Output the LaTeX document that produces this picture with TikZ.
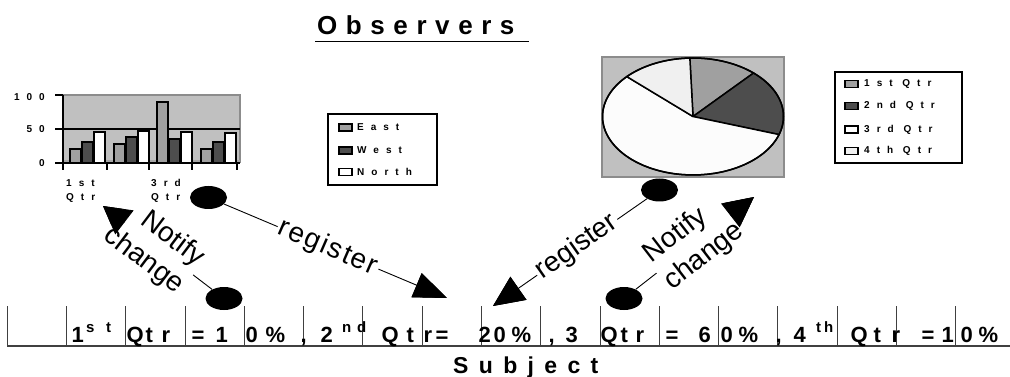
\documentclass[tikz,border=0pt]{standalone}
\usepackage{fontspec}
\setmainfont{Liberation Sans}
\usetikzlibrary{arrows.meta,calc,shapes.geometric}
\definecolor{gmid}{HTML}{A0A0A0}
\definecolor{gdark}{HTML}{4D4D4D}
\definecolor{gbg}{HTML}{C0C0C0}
\definecolor{gedge}{HTML}{8C8C8C}
\definecolor{pwhite}{HTML}{FCFCFC}
\definecolor{plight}{HTML}{F0F0F0}
\begin{document}
\begin{tikzpicture}[x=1pt,y=-1pt,
  blob/.style={ellipse, fill=black, minimum width=37pt, minimum height=23pt, inner sep=0pt},
  conn/.style 2 args={line width=0.9pt, -{Triangle[length=#1pt,width=#2pt]}},
  lbl/.style={font=\fontsize{28}{34}\selectfont, fill=white, inner sep=2pt},
  mglyph/.style={anchor=base west, inner sep=0pt, font=\fontsize{22}{22}\selectfont\bfseries},
  supg/.style={anchor=base west, inner sep=0pt, font=\fontsize{15}{15}\selectfont\bfseries},
  chartlbl/.style={inner sep=0pt, font=\fontsize{10}{10}\selectfont\bfseries\addfontfeature{LetterSpace=70}},
  swatch/.style={draw=black, line width=1.3pt},
  barbox/.style={draw=black, line width=2pt},
  axisline/.style={line width=2.2pt, black},
]
\useasboundingbox (0,0) rectangle (1010,377);

% ---------- title ----------
\node[anchor=base west, inner sep=0pt, font=\fontsize{26}{26}\selectfont\bfseries\addfontfeature{LetterSpace=33}] (title) at (317,35) {Observers};
\draw[line width=1pt] (315,42) -- (529,42);

% ---------- bar chart ----------
\fill[gbg] (63,95) rectangle (240,163);
\draw[gedge, line width=1.2pt] (63,95) -- (240,95) -- (240,163);
\fill[gray!70] (63,160) rectangle (240,163);
\draw[axisline] (55,129) -- (240,129);
\draw[axisline] (63,95) -- (63,170);
\draw[axisline] (55,163) -- (240,163);
\draw[axisline] (55,95) -- (63,95);
\foreach \tx in {63,107,149,192,237} \draw[axisline] (\tx,163) -- (\tx,170);
\foreach \g/\e/\w/\n in {0/20.4/30.6/45.9, 1/27.4/38.6/46.9, 2/90/34.6/45, 3/20.4/31.6/43.9}{
  \pgfmathsetmacro{\gx}{70+43.5*\g}
  \draw[barbox, fill=gmid] (\gx,163) rectangle ({\gx+11},{163-0.68*\e});
  \draw[barbox, fill=gdark] ({\gx+12},163) rectangle ({\gx+23},{163-0.68*\w});
  \draw[barbox, fill=white] ({\gx+24},163) rectangle ({\gx+35},{163-0.68*\n});
}
\node[chartlbl, anchor=east] (y100) at (45,97) {100};
\node[chartlbl, anchor=east] (y50) at (45,129) {50};
\node[chartlbl, anchor=east] (y0) at (45,163) {0};
\node[chartlbl, anchor=west] (c1a) at (66,183) {1st};
\node[chartlbl, anchor=west] (c1b) at (66,198) {Qtr};
\node[chartlbl, anchor=west] (c3a) at (151,183) {3rd};
\node[chartlbl, anchor=west] (c3b) at (151,198) {Qtr};

% left legend
\draw[line width=1.5pt] (328,114) rectangle (437,185);
\draw[swatch, fill=gmid] (339,124) rectangle (352,131);
\draw[swatch, fill=gdark] (339,147) rectangle (352,154);
\draw[swatch, fill=white] (339,168.5) rectangle (352,175.5);
\node[chartlbl, anchor=west] (le) at (357,127.5) {East};
\node[chartlbl, anchor=west] (lw) at (357,150.5) {West};
\node[chartlbl, anchor=west] (ln) at (357,172) {North};

% ---------- pie chart ----------
\draw[gedge, fill=gbg, line width=1.5pt] (602,57) rectangle (784,177);
\def\pcx{693}\def\pcy{116.5}\def\prx{90.5}\def\pry{58.5}
\foreach \a/\b/\col in {48/92/gmid, -18/48/gdark, 137/342/pwhite, 92/137/plight}{
  \filldraw[fill=\col, draw=black, line width=1.5pt, line join=round] (\pcx,\pcy) -- plot[domain=\a:\b, samples=40] ({\pcx+\prx*cos(\x)},{\pcy-\pry*sin(\x)}) -- cycle;
}
\draw[line width=1.5pt] (\pcx,\pcy) ellipse [x radius=\prx, y radius=\pry];

% right legend
\draw[line width=1.5pt] (835,72) rectangle (962,163);
\draw[swatch, fill=gmid] (845,80.5) rectangle (858,87.5);
\draw[swatch, fill=gdark] (845,102.5) rectangle (858,109.5);
\draw[swatch, fill=white] (845,126) rectangle (858,133);
\draw[swatch, fill=plight] (845,147.5) rectangle (858,154.5);
\node[chartlbl, anchor=west] (r1) at (864,84) {1st Qtr};
\node[chartlbl, anchor=west] (r2) at (864,106) {2nd Qtr};
\node[chartlbl, anchor=west] (r3) at (864,129.5) {3rd Qtr};
\node[chartlbl, anchor=west] (r4) at (864,151) {4th Qtr};

% ---------- subject bar ----------
\draw[black!75, line width=1.2pt] (7,346) -- (1010,346);
\foreach \k in {0,...,16} \draw[black!75, line width=1pt] ({7.3+59.27*\k},306) -- ({7.3+59.27*\k},346);
\foreach \x/\c [count=\i] in {73/1, 128/Q, 147/t, 163/r, 193/=, 217/1, 247/0, 267/\%, 302/{,}, 322/2, 383/Q, 408/t, 425/r, 437/=, 480/2, 495/0, 513/\%, 550/{,}, 567/3, 602/Q, 622/t, 637/r, 667/=, 700/6, 722/0, 740/\%, 777/{,}, 795/4, 852/Q, 875/t, 893/r, 923/=, 943/1, 962/0, 980/\%}
  \node[mglyph] (g\i) at (\x-1.5,342) {\c};
\foreach \x/\c [count=\i] in {87/s, 107/t, 343/n, 358/d, 817/t, 825/h}
  \node[supg] (s\i) at (\x-1,332) {\c};
\node[anchor=base west, inner sep=0pt, font=\fontsize{23}{23}\selectfont\bfseries\addfontfeature{LetterSpace=45}] (subj) at (453,373) {Subject};

% ---------- blobs and connectors ----------
\node[blob] (A) at (208.5,197.5) {};
\node[blob] (B) at (224,298.5) {};
\node[blob] (C) at (659.5,190) {};
\node[blob] (D) at (624,298.5) {};
\coordinate (tA) at (447,298);
\coordinate (tB) at (103,206);
\coordinate (tC) at (493,306);
\coordinate (tD) at (754,197);

\draw[conn={33}{26}] (A) -- (tA);
\draw[conn={27}{30}] (B) -- (tB);
\draw[conn={31}{28}] (C) -- (tC);
\draw[conn={30}{30}] (D) -- (tD);

\node[lbl, rotate=-23.5, font=\fontsize{28}{34}\selectfont\addfontfeature{LetterSpace=6}] (regL) at (328,248) {register};
\node[lbl, rotate=-37, align=right] (notL) at (154,247) {Notify\\change};
\node[lbl, rotate=35] (regR) at (577,247) {register};
\node[lbl, rotate=37.6, align=left] (notR) at (694,243) {Notify\\change};

% arrow heads drawn again above the label boxes
\draw[conn={33}{26}] ($(tA)!33pt!(A)$) -- (tA);
\draw[conn={27}{30}] ($(tB)!27pt!(B)$) -- (tB);
\draw[conn={31}{28}] ($(tC)!31pt!(C)$) -- (tC);
\draw[conn={30}{30}] ($(tD)!30pt!(D)$) -- (tD);
\end{tikzpicture}
\end{document}
